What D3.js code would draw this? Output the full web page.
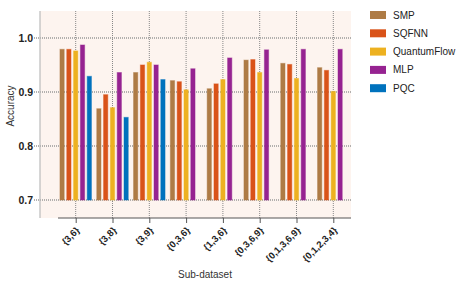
<!DOCTYPE html>
<html><head><meta charset="utf-8">
<script src="https://cdn.jsdelivr.net/npm/d3@7"></script>
<style>
body{margin:0;background:#fff;}
svg text{font-family:"Liberation Sans",Arial,sans-serif;}
</style></head>
<body><svg id="c" width="463" height="285"></svg>
<script>
const categories = ["{3,6}","{3,8}","{3,9}","{0,3,6}","{1,3,6}","{0,3,6,9}","{0,1,3,6,9}","{0,1,2,3,4}"];
const seriesNames = ["SMP","SQFNN","QuantumFlow","MLP","PQC"];
const SMP = [0.980,0.870,0.937,0.922,0.907,0.960,0.954,0.946];
const SQFNN = [0.980,0.896,0.951,0.920,0.916,0.961,0.952,0.941];
const QuantumFlow = [0.977,0.872,0.956,0.905,0.924,0.937,0.926,0.902];
const MLP = [0.988,0.937,0.951,0.944,0.964,0.979,0.980,0.980];
const PQC = [0.930,0.854,0.924,null,null,null,null,null];
const yTicks = [0.7,0.8,0.9,1.0];
const colors = ["#AE7B45","#D95319","#EDB120","#962391","#0072BD"];

const seriesValues = [SMP,SQFNN,QuantumFlow,MLP,PQC];
const svg = d3.select("#c");
const y = d3.scaleLinear().domain([0.7,1.0]).range([200,38]);
const x = d3.scalePoint().domain(categories).range([75.7,333.3]);
const xs = d3.scaleBand().domain(seriesNames).range([-16.25,16.25]).paddingInner(0.23);

const pLeft=40,pRight=351,pTop=y(1.05),pBottom=218;
svg.append("rect").attr("x",pLeft).attr("y",pTop).attr("width",pRight-pLeft).attr("height",pBottom-pTop).attr("fill","#FDF4EF");

// horizontal grid
svg.append("g").selectAll("line").data(yTicks).join("line")
 .attr("x1",34).attr("x2",pRight).attr("y1",d=>y(d)).attr("y2",d=>y(d))
 .attr("stroke","#999").attr("stroke-width",1.3).attr("stroke-dasharray","1,1");
// vertical grid
svg.append("g").selectAll("line").data(categories).join("line")
 .attr("x1",d=>x(d)).attr("x2",d=>x(d)).attr("y1",pTop).attr("y2",pBottom)
 .attr("stroke","#888").attr("stroke-width",1).attr("stroke-dasharray","1,1");

// y axis line
svg.append("line").attr("x1",pLeft).attr("x2",pLeft).attr("y1",pTop).attr("y2",pBottom).attr("stroke","#bbb").attr("stroke-width",1.2);

// bars
const data=[];
categories.forEach((c,i)=>seriesNames.forEach((s,j)=>{const v=seriesValues[j][i]; if(v!=null) data.push({c,s,v,j});}));
svg.append("g").selectAll("rect").data(data).join("rect")
 .attr("x",d=>x(d.c)+xs(d.s)+0.5).attr("width",xs.bandwidth()-1)
 .attr("y",d=>y(d.v)+0.5).attr("height",d=>y(0.7)-y(d.v)-0.5)
 .attr("fill",d=>colors[d.j]).attr("stroke",d=>colors[d.j]).attr("stroke-opacity",0.45).attr("stroke-width",1);

// x axis
const xa = svg.append("g").attr("transform",`translate(0,${pBottom})`).call(d3.axisBottom(x).tickSize(5).tickSizeOuter(0));
xa.select(".domain").remove();
svg.append("line").attr("x1",58).attr("x2",pRight).attr("y1",pBottom).attr("y2",pBottom).attr("stroke","#555").attr("stroke-width",1);
xa.selectAll(".tick line").attr("stroke","#555");
xa.selectAll(".tick text").attr("font-size",9.5).attr("font-weight","bold").attr("fill","#222")
 .attr("text-anchor","end").attr("dy",null).attr("y",0)
 .attr("transform","translate(4,13) rotate(-45)");

// y axis labels
svg.append("g").selectAll("text").data(yTicks).join("text")
 .attr("x",33).attr("y",d=>y(d)).attr("dy","0.35em").attr("text-anchor","end")
 .attr("font-size",10.5).attr("font-weight","bold").attr("fill","#222").text(d=>d.toFixed(1));

svg.append("text").attr("transform","translate(14,106) rotate(-90)").attr("text-anchor","middle")
 .attr("font-size",10).attr("fill","#333").text("Accuracy");
svg.append("text").attr("x",205).attr("y",278).attr("text-anchor","middle")
 .attr("font-size",10).attr("fill","#333").text("Sub-dataset");

// legend
const lg = svg.append("g").selectAll("g").data(seriesNames).join("g").attr("transform",(d,i)=>`translate(370,${15+i*18.3})`);
lg.append("rect").attr("x",0).attr("y",-4).attr("width",16).attr("height",8).attr("fill",(d,i)=>colors[i]);
lg.append("text").attr("x",23).attr("y",0).attr("dy","0.35em").attr("font-size",10).attr("fill","#222").text(d=>d);
</script></body></html>
